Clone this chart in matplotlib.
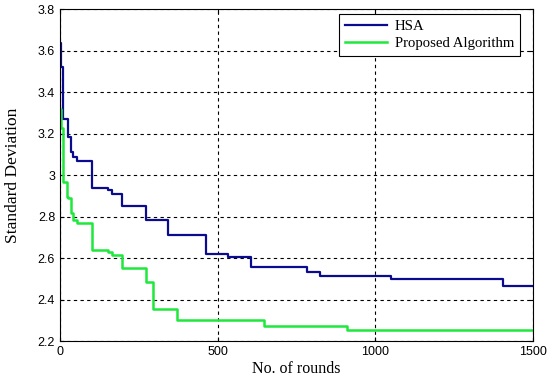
import matplotlib
matplotlib.use('Agg')
import matplotlib.pyplot as plt

# step data (round where the value starts, value)
hsa_x = [0, 2, 10, 26, 34, 42, 53, 102, 153, 164, 196, 273, 343, 462, 534, 605, 784, 825, 1049, 1406, 1500]
hsa_y = [3.636, 3.52, 3.27, 3.185, 3.112, 3.088, 3.069, 2.936, 2.93, 2.908, 2.85, 2.786, 2.711, 2.62, 2.606, 2.555, 2.534, 2.515, 2.50, 2.465, 2.465]

prop_x = [0, 2, 10, 21, 26, 34, 42, 53, 102, 153, 164, 196, 273, 296, 370, 647, 911, 1500]
prop_y = [3.32, 3.225, 2.968, 2.895, 2.888, 2.815, 2.783, 2.77, 2.639, 2.63, 2.615, 2.55, 2.486, 2.353, 2.30, 2.273, 2.252, 2.252]

xticks = [0, 500, 1000, 1500]
yticks = [2.2, 2.4, 2.6, 2.8, 3.0, 3.2, 3.4, 3.6, 3.8]
ytick_labels = ['2.2', '2.4', '2.6', '2.8', '3', '3.2', '3.4', '3.6', '3.8']

fig = plt.figure(figsize=(5.5, 3.8), dpi=100)
ax = fig.add_axes([0.109, 0.1026, 0.86, 0.873])

ax.step(hsa_x, hsa_y, where='post', color='#0b0b8f', lw=1.6, label='HSA')
ax.step(prop_x, prop_y, where='post', color='#1ee83c', lw=1.8, label='Proposed Algorithm')

ax.set_xlim(0, 1500)
ax.set_ylim(2.2, 3.8)
ax.set_xticks(xticks)
ax.set_yticks(yticks)
ax.set_yticklabels(ytick_labels)
for lab in ax.get_xticklabels() + ax.get_yticklabels():
    lab.set_family('Liberation Sans')
    lab.set_fontsize(9)
ax.tick_params(direction='in', top=True, right=True, length=3, width=0.8)
ax.grid(True, color='black', linestyle=(0, (3, 3)), linewidth=0.8)

ax.set_xlabel('No. of rounds', family='Liberation Serif', fontsize=11.5, labelpad=2)
ax.set_ylabel('Standard Deviation', family='Liberation Serif', fontsize=12.5, labelpad=12)

leg = ax.legend(loc='upper right', bbox_to_anchor=(520 / 550, 1 - 14 / 380),
                bbox_transform=fig.transFigure,
                prop={'family': 'Liberation Serif', 'size': 10.6},
                fancybox=False, edgecolor='black', framealpha=1, handlelength=2.9,
                handletextpad=0.5, borderpad=0.4, labelspacing=0.25, borderaxespad=0)
leg.get_frame().set_linewidth(0.8)

fig.savefig('out.png', dpi=100)
